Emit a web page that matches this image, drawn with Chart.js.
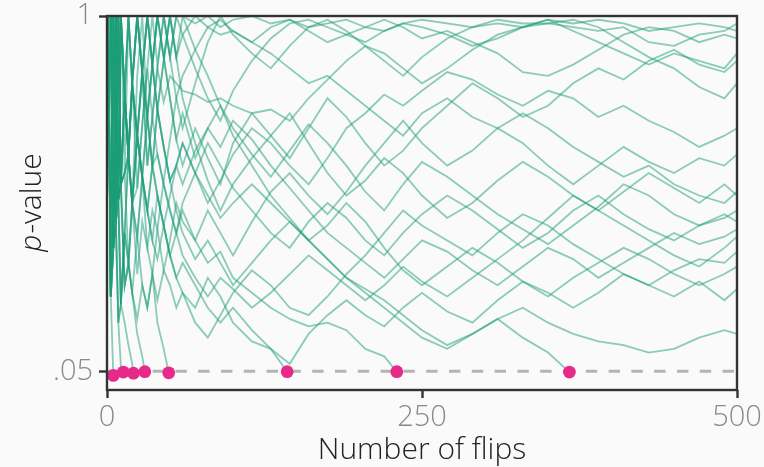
<!DOCTYPE html>
<html>
<head>
<meta charset="utf-8">
<script src="https://cdn.jsdelivr.net/npm/chart.js@4.4.1/dist/chart.umd.min.js"></script>
<style>
  html, body { margin: 0; padding: 0; background: #fafafa; }
  #wrap { width: 764px; height: 467px; }
</style>
</head>
<body>
<div id="wrap"><canvas id="chart" width="764" height="467"></canvas></div>
<script>
const flips = [1,3,5,7,9,11,14,17,20,24,28,32,36,40,45,50,55,60,70,80,90,100,115,130,145,160,175,190,205,220,235,250,270,290,310,330,350,370,390,410,430,450,470,490,500];

// runs that never dip below .05 (p-value x100)
const s01 = [100,100,38,100,51,100,79,63,82,54,71,86,100,87,100,89,100,100,98,100,97,99,100,98,99,97,98,99,97,96,98,99,98,97,99,98,98,97,96,97,93,92,95,96,98];
const s02 = [100,25,100,45,100,55,28,33,50,84,100,73,60,75,88,100,89,95,100,97,95,96,93,97,99,96,93,95,97,99,97,94,96,93,90,85,84,87,91,95,97,96,93,95,94];
const s03 = [100,100,100,45,18,23,42,63,82,100,85,60,73,86,100,89,78,70,82,93,100,95,90,86,92,97,99,96,92,88,84,89,94,97,98,97,99,96,93,90,87,90,88,86,90];
const s04 = [100,100,38,100,51,23,42,63,50,54,71,86,73,86,77,84,82,80,79,77,78,76,74,75,72,78,83,88,92,90,86,82,86,91,95,97,98,99,97,93,89,86,81,78,82];
const s05 = [100,25,38,100,51,100,58,100,82,68,85,100,87,75,65,56,60,66,58,50,56,63,70,66,60,55,62,70,74,79,76,80,85,83,79,76,80,78,73,76,72,69,65,68,70];
const s06 = [100,100,100,45,100,55,79,63,50,31,45,38,48,43,32,40,50,45,40,48,42,36,45,53,58,52,47,53,60,66,72,66,60,64,70,66,60,55,60,65,61,58,62,60,63];
const s07 = [100,100,38,45,18,23,42,34,26,41,57,38,31,43,56,67,78,84,91,97,99,96,93,90,86,82,84,80,76,72,68,74,78,73,70,74,70,65,61,57,60,55,52,50,53];
const s08 = [100,25,100,100,51,100,79,100,82,100,85,73,60,52,44,36,42,50,58,66,60,54,48,42,38,45,50,46,40,36,42,47,52,48,43,38,42,48,52,47,43,40,44,47,45];
const s09 = [100,100,100,100,51,55,79,63,82,68,57,48,40,35,44,52,60,55,64,70,65,72,67,60,54,48,42,38,34,30,35,40,37,32,28,33,38,35,30,34,38,42,39,41,43];
const s10 = [100,25,38,100,100,55,58,63,50,68,85,60,73,63,55,48,42,36,30,25,30,27,22,26,31,36,32,28,24,28,33,29,25,30,35,40,46,52,48,44,40,36,33,38,41];
const s11 = [100,100,38,45,51,55,58,34,26,19,28,22,31,24,32,28,22,26,18,14,20,26,32,28,22,20,25,31,36,42,48,44,40,36,42,47,44,39,35,31,28,32,35,34,37];
const s12 = [100,100,100,45,100,100,79,63,50,41,57,48,60,52,44,36,30,34,28,22,18,22,16,11,7,15,20,24,20,17,22,26,21,18,24,29,26,22,26,31,28,25,29,24,27];
const s13 = [100,25,38,100,51,55,28,34,50,68,57,73,87,75,65,56,48,42,35,40,34,28,34,40,45,40,35,30,26,22,18,14,11,15,19,22,18,15,13,12,10,11,14,16,15];
const s14 = [100,100,38,100,51,100,79,100,82,100,85,100,87,100,100,89,100,95,86,78,72,80,88,94,98,99,97,95,93,96,98,97,95,92,94,97,99,98,99,98,96,97,98,97,96];
const s15 = [100,25,100,45,100,55,79,63,50,68,85,100,87,100,89,78,67,60,70,62,55,66,74,68,62,70,78,73,66,60,64,70,76,82,78,73,76,82,86,83,88,91,87,85,88];
const s16 = [100,100,100,45,51,100,79,63,82,100,85,73,87,100,89,100,89,78,66,56,48,55,62,68,74,66,58,52,56,62,58,52,46,50,56,61,57,52,48,53,58,54,50,55,52];
const s17 = [100,25,38,45,51,55,79,100,82,68,57,73,87,100,89,78,67,74,62,70,76,68,60,52,46,40,44,50,45,38,32,28,33,38,34,29,25,30,34,38,35,31,28,31,33];
const s18 = [100,100,38,100,100,55,58,63,82,100,85,100,87,75,88,100,89,100,91,84,76,70,63,57,64,71,66,60,53,48,55,61,57,52,47,43,39,44,49,55,52,47,44,46,48];

// runs that were stopped once p < .05 (values up to the stop)
const t01 = [100,25];
const t02 = [100,100,38,45,18,6.5];
const t03 = [100,25,100,45,51,23,18,12,7];
const t04 = [100,100,38,100,51,55,28,34,26,15,9];
const t05 = [100,25,38,45,100,55,79,63,50,41,28,22,31,18,11];
const t06 = [100,100,38,100,51,100,79,63,82,68,57,48,40,52,44,36,30,26,22,30,25,18,13,11];
const t07 = [100,25,100,45,100,55,58,63,82,68,85,73,60,63,55,48,42,48,40,34,37,30,26,22,19,17,18,16,11,9];
const t08 = [100,100,100,100,51,23,42,34,50,68,57,48,60,75,65,56,60,66,58,52,46,50,55,50,45,40,35,30,27,24,20,16,12,15,19,14,10];
const stopFlips = [5, 13, 21, 30, 49, 143, 230, 367];
const stopP = [3.9, 4.8, 4.5, 4.9, 4.6, 4.9, 4.9, 4.8];

const alpha = 0.05;
const xTicks = [0, 250, 500];
const yTicks = [0.05, 1];
const yTickLabels = ['.05', '1'];
const xTitle = 'Number of flips';

const lineColor = 'rgba(27,158,119,0.5)';
const dotColor = '#e7298a';

function toPoints(values) {
    return values.map((v, i) => ({ x: flips[i], y: v / 100 }));
}

const survivors = [s01, s02, s03, s04, s05, s06, s07, s08, s09, s10, s11, s12, s13, s14, s15, s16, s17, s18];
const stoppedRuns = [t01, t02, t03, t04, t05, t06, t07, t08];

const runSets = survivors.map(v => ({
    data: toPoints(v), borderColor: lineColor, borderWidth: 1.8, pointRadius: 0, order: 2
}));
const stopSets = stoppedRuns.map((v, i) => ({
    data: toPoints(v).concat({ x: stopFlips[i], y: stopP[i] / 100 }),
    borderColor: lineColor, borderWidth: 1.8, pointRadius: 0, order: 2
}));

const dots = {
    type: 'scatter',
    data: stopFlips.map((n, i) => ({ x: n, y: stopP[i] / 100 })),
    backgroundColor: dotColor, borderWidth: 0, pointRadius: 6.4, order: 0
};
const cutoff = {
    data: [{ x: 0, y: alpha }, { x: 500, y: alpha }],
    borderColor: '#b4b4b4', borderWidth: 3, borderDash: [11.4, 11.4], pointRadius: 0, order: 1
};

// full frame + axis titles
const frame = {
    id: 'frame',
    afterDatasetsDraw(chart) {
        const { ctx, chartArea: a } = chart;
        ctx.save();
        ctx.strokeStyle = '#333';
        ctx.lineWidth = 2.4;
        ctx.strokeRect(a.left, a.top, a.right - a.left, a.bottom - a.top);
        ctx.restore();
    },
    afterDraw(chart) {
        const { ctx, chartArea: a } = chart;
        ctx.save();
        ctx.fillStyle = '#222';
        ctx.textBaseline = 'alphabetic';
        ctx.font = '300 30px "Open Sans"';
        ctx.textAlign = 'center';
        ctx.fillText(xTitle, (a.left + a.right) / 2, 459);

        ctx.translate(41, (a.top + a.bottom) / 2);
        ctx.rotate(-Math.PI / 2);
        ctx.textAlign = 'left';
        ctx.font = 'italic 300 30px "Open Sans"';
        const pw = ctx.measureText('p').width;
        ctx.font = '300 30px "Open Sans"';
        const rw = ctx.measureText('-value').width;
        const x0 = -(pw + rw) / 2;
        ctx.font = 'italic 300 30px "Open Sans"';
        ctx.fillText('p', x0, 0);
        ctx.font = '300 30px "Open Sans"';
        ctx.fillText('-value', x0 + pw + 1, 0);
        ctx.restore();
    }
};

const tickFont = { family: 'Open Sans', size: 29, weight: '300' };
const gridOpts = { drawOnChartArea: false, drawTicks: true, tickLength: 8, tickWidth: 2.4, tickColor: '#333' };

new Chart(document.getElementById('chart'), {
    type: 'line',
    data: { datasets: [dots, cutoff, ...stopSets, ...runSets] },
    options: {
        responsive: false,
        devicePixelRatio: 1,
        animation: false,
        layout: { padding: { top: 16, right: 27, left: 0, bottom: 0 } },
        plugins: { legend: { display: false }, tooltip: { enabled: false } },
        elements: { line: { tension: 0 } },
        scales: {
            x: {
                type: 'linear', min: 0, max: 500,
                afterBuildTicks: s => { s.ticks = xTicks.map(v => ({ value: v })); },
                afterFit: s => { s.height = 77; s.paddingLeft = 0; s.paddingRight = 0; },
                grid: gridOpts,
                border: { display: false },
                ticks: { color: '#8a8a8a', font: tickFont, padding: 2, maxRotation: 0, autoSkip: false }
            },
            y: {
                type: 'linear', min: 0, max: 1,
                afterBuildTicks: s => { s.ticks = yTicks.map(v => ({ value: v })); },
                afterFit: s => { s.width = 107; s.paddingTop = 0; s.paddingBottom = 0; },
                grid: gridOpts,
                border: { display: false },
                ticks: {
                    color: '#8a8a8a', font: tickFont, padding: 6, autoSkip: false,
                    callback: (v) => yTickLabels[yTicks.indexOf(v)]
                }
            }
        }
    },
    plugins: [frame]
});
</script>
</body>
</html>
